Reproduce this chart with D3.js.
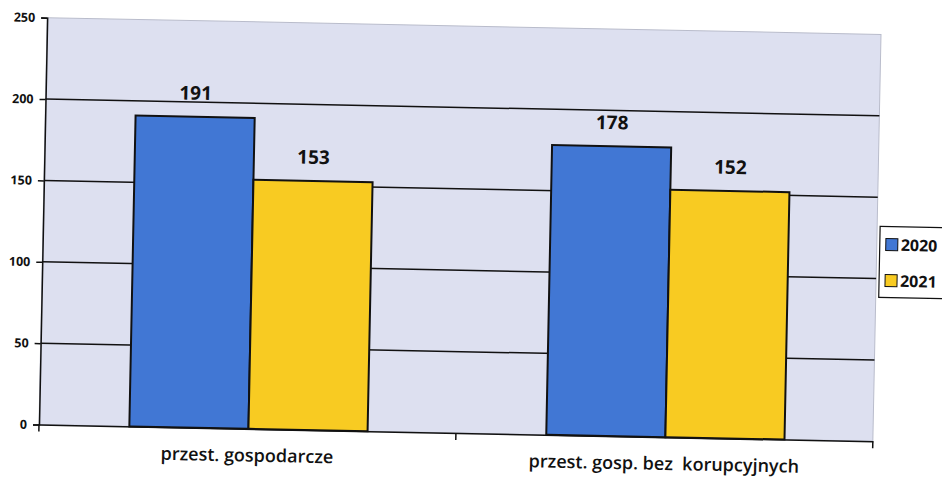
<!DOCTYPE html>
<html>
<head>
<meta charset="utf-8">
<script src="https://cdn.jsdelivr.net/npm/d3@7"></script>
<style>
  body { margin: 0; background: #fff; }
  svg { display: block; }
  text { font-family: "Open Sans", sans-serif; fill: #111; white-space: pre; }
</style>
</head>
<body>
<div id="chart"></div>
<script>
const categories = ["przest. gospodarcze", "przest. gosp. bez  korupcyjnych"];
const years = ["2020", "2021"];
const values2020 = [191, 178];
const values2021 = [153, 152];
const yTicks = [0, 50, 100, 150, 200, 250];

const width = 942, height = 477;
const plot = { left: 43, right: 877, top: 26, bottom: 433 };
const colors = ["#4177d4", "#f8cb22"];

const svg = d3.select("#chart").append("svg")
  .attr("width", width)
  .attr("height", height);

// the scan is a little tilted
const g = svg.append("g")
  .attr("transform", "rotate(1.15, 460, 229.5)");

const x = d3.scaleBand().domain(categories).range([plot.left, plot.right]);
const x1 = d3.scaleBand().domain(years).range([1, x.bandwidth() + 1]).paddingOuter(0.75);
const y = d3.scaleLinear().domain([0, 250]).range([plot.bottom, plot.top]);

// plot background
g.append("rect")
  .attr("x", plot.left).attr("y", plot.top)
  .attr("width", plot.right - plot.left).attr("height", plot.bottom - plot.top)
  .attr("fill", "#dde0f0")
  .attr("stroke", "#b9bccb").attr("stroke-width", 1);

// gridlines
g.selectAll(".grid")
  .data(yTicks.filter(d => d > 0 && d < 250))
  .enter().append("line")
  .attr("x1", plot.left).attr("x2", plot.right)
  .attr("y1", d => y(d)).attr("y2", d => y(d))
  .attr("stroke", "#111").attr("stroke-width", 1.5);

const rows = categories.map((c, i) => ({ cat: c, vals: [values2020[i], values2021[i]] }));

const groups = g.selectAll(".grp")
  .data(rows)
  .enter().append("g")
  .attr("transform", d => "translate(" + x(d.cat) + ",0)");

groups.selectAll("rect")
  .data(d => d.vals.map((v, j) => ({ year: years[j], v: v, j: j })))
  .enter().append("rect")
  .attr("x", d => x1(d.year))
  .attr("y", d => y(d.v))
  .attr("width", x1.bandwidth())
  .attr("height", d => y(0) - y(d.v))
  .attr("fill", d => colors[d.j])
  .attr("stroke", "#111")
  .attr("stroke-width", 2);

groups.selectAll(".val")
  .data(d => d.vals.map((v, j) => ({ year: years[j], v: v })))
  .enter().append("text")
  .attr("x", d => x1(d.year) + x1.bandwidth() / 2)
  .attr("y", d => y(d.v) - 17)
  .attr("text-anchor", "middle")
  .style("font-size", "19px")
  .style("font-weight", "bold")
  .text(d => d.v);

// y axis
const yAxis = g.append("g")
  .attr("transform", "translate(" + plot.left + ",0)")
  .call(d3.axisLeft(y).tickValues(yTicks).tickSize(6).tickPadding(6));
yAxis.select(".domain").attr("stroke", "#111").attr("stroke-width", 1.5);
yAxis.selectAll(".tick line").attr("stroke", "#111").attr("stroke-width", 1.5);
yAxis.selectAll("text")
  .style("font-size", "12.5px").style("font-weight", "bold")
  .style("font-family", "'Open Sans', sans-serif").attr("fill", "#111");

// x axis
const xAxis = g.append("g")
  .attr("transform", "translate(0," + plot.bottom + ")")
  .call(d3.axisBottom(x).tickSize(0).tickPadding(20));
xAxis.select(".domain").attr("stroke", "#111").attr("stroke-width", 1.5);
xAxis.selectAll("text")
  .style("font-size", "18px").style("font-weight", "600")
  .style("font-family", "'Open Sans', sans-serif").attr("fill", "#111");
g.selectAll(".xsep")
  .data([plot.left, (plot.left + plot.right) / 2, plot.right])
  .enter().append("line")
  .attr("x1", d => d).attr("x2", d => d)
  .attr("y1", plot.bottom).attr("y2", plot.bottom + 7)
  .attr("stroke", "#111").attr("stroke-width", 1.5);

// legend (runs off the right edge like the scan)
const leg = g.append("g").attr("transform", "translate(880,218)");
leg.append("rect")
  .attr("width", 80).attr("height", 71)
  .attr("fill", "#fff").attr("stroke", "#111").attr("stroke-width", 1.2);
years.forEach((yr, i) => {
  const row = leg.append("g").attr("transform", "translate(6," + (18 + i * 36) + ")");
  row.append("rect")
    .attr("x", 0).attr("y", -6).attr("width", 12).attr("height", 12)
    .attr("fill", colors[i]).attr("stroke", "#111").attr("stroke-width", 1);
  row.append("text")
    .attr("x", 15).attr("y", 6)
    .style("font-size", "16px").style("font-weight", "bold")
    .text(yr);
});
</script>
</body>
</html>
